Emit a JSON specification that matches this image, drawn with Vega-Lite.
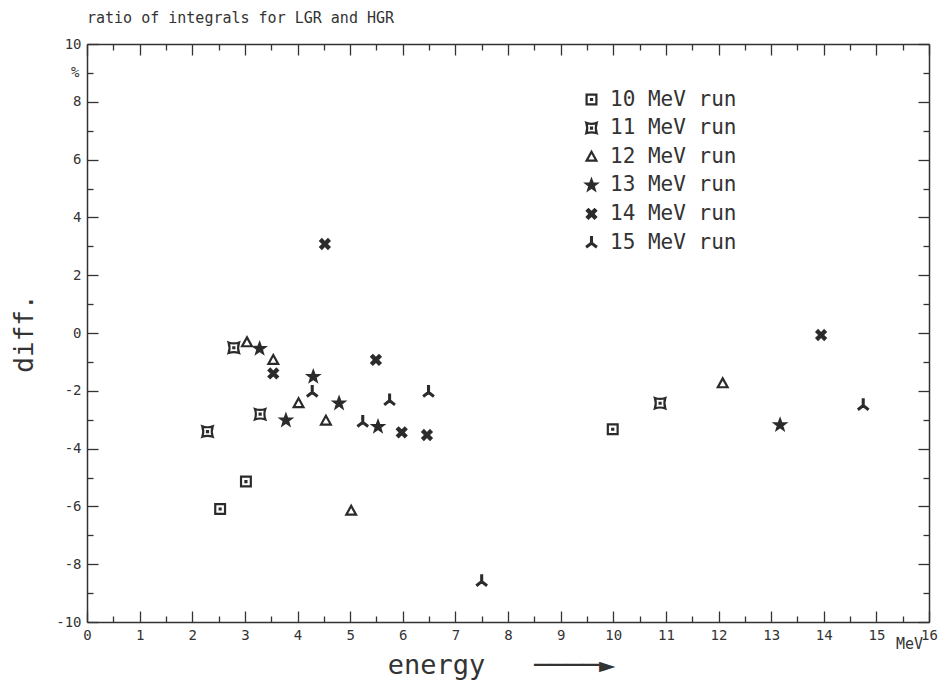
{
  "$schema": "https://vega.github.io/schema/vega-lite/v6.json",
  "width": 842,
  "height": 578,
  "autosize": "none",
  "padding": {"left": 87, "top": 44, "right": 10, "bottom": 63},
  "background": "white",
  "title": {
    "text": "ratio of integrals for LGR and HGR",
    "anchor": "start",
    "frame": "group",
    "font": "DejaVu Sans Mono",
    "fontSize": 15,
    "fontWeight": "normal",
    "color": "#333333",
    "offset": 11
  },
  "config": {
    "view": {"stroke": null},
    "font": "DejaVu Sans Mono",
    "axis": {
      "grid": false,
      "domainColor": "#333333",
      "domainWidth": 1.5,
      "tickColor": "#333333",
      "tickWidth": 1.3,
      "labelFont": "DejaVu Sans Mono",
      "labelFontSize": 14,
      "labelColor": "#333333",
      "labelFlush": false,
      "labelOverlap": false,
      "titleFont": "DejaVu Sans Mono",
      "titleFontWeight": "normal",
      "titleColor": "#333333"
    }
  },
  "datasets": {
    "runs": [
      {"run": "10 MeV run", "energy": 2.53, "diff": -6.09},
      {"run": "10 MeV run", "energy": 3.02, "diff": -5.14},
      {"run": "10 MeV run", "energy": 9.99, "diff": -3.33},
      {"run": "11 MeV run", "energy": 2.29, "diff": -3.41},
      {"run": "11 MeV run", "energy": 2.79, "diff": -0.51},
      {"run": "11 MeV run", "energy": 3.29, "diff": -2.81},
      {"run": "11 MeV run", "energy": 10.89, "diff": -2.43},
      {"run": "12 MeV run", "energy": 3.04, "diff": -0.32},
      {"run": "12 MeV run", "energy": 3.54, "diff": -0.93},
      {"run": "12 MeV run", "energy": 4.02, "diff": -2.43},
      {"run": "12 MeV run", "energy": 4.54, "diff": -3.03},
      {"run": "12 MeV run", "energy": 5.02, "diff": -6.15},
      {"run": "12 MeV run", "energy": 12.08, "diff": -1.74},
      {"run": "13 MeV run", "energy": 3.28, "diff": -0.54},
      {"run": "13 MeV run", "energy": 3.78, "diff": -3.02},
      {"run": "13 MeV run", "energy": 4.30, "diff": -1.51},
      {"run": "13 MeV run", "energy": 4.79, "diff": -2.43},
      {"run": "13 MeV run", "energy": 5.53, "diff": -3.24},
      {"run": "13 MeV run", "energy": 13.17, "diff": -3.18},
      {"run": "14 MeV run", "energy": 3.54, "diff": -1.40},
      {"run": "14 MeV run", "energy": 4.52, "diff": 3.08},
      {"run": "14 MeV run", "energy": 5.49, "diff": -0.93},
      {"run": "14 MeV run", "energy": 5.98, "diff": -3.44},
      {"run": "14 MeV run", "energy": 6.46, "diff": -3.53},
      {"run": "14 MeV run", "energy": 13.95, "diff": -0.07},
      {"run": "15 MeV run", "energy": 4.28, "diff": -2.03},
      {"run": "15 MeV run", "energy": 5.24, "diff": -3.07},
      {"run": "15 MeV run", "energy": 5.75, "diff": -2.32},
      {"run": "15 MeV run", "energy": 6.49, "diff": -2.03},
      {"run": "15 MeV run", "energy": 7.50, "diff": -8.58},
      {"run": "15 MeV run", "energy": 14.75, "diff": -2.49}
    ]
  },
  "data": {"name": "runs"},
  "resolve": {"axis": {"x": "independent", "y": "independent"}},
  "layer": [
    {
      "mark": {"type": "point", "filled": true, "stroke": "#2b2b2b", "strokeWidth": 2.2, "size": 150, "opacity": 1},
      "encoding": {
        "x": {
          "field": "energy",
          "type": "quantitative",
          "scale": {"domain": [0, 16], "nice": false, "zero": false},
          "axis": {
            "orient": "bottom",
            "values": [0, 1, 2, 3, 4, 5, 6, 7, 8, 9, 10, 11, 12, 13, 14, 15, 16],
            "labelExpr": "'' + datum.value",
            "tickSize": -11,
            "labelPadding": 17,
            "title": "energy\u00a0\u00a0\u00a0────►",
            "titleFontSize": 27,
            "titleX": 414,
            "titleY": 43,
            "titleBaseline": "middle"
          }
        },
        "y": {
          "field": "diff",
          "type": "quantitative",
          "scale": {"domain": [-10, 10], "nice": false, "zero": false},
          "axis": {
            "orient": "left",
            "values": [-10, -8, -6, -4, -2, 0, 2, 4, 6, 8, 10],
            "labelExpr": "'' + datum.value",
            "tickSize": -11,
            "labelPadding": 17,
            "title": "diff.",
            "titleFontSize": 26,
            "titleX": -63,
            "titleY": 289,
            "titleBaseline": "middle",
            "titleAngle": -90
          }
        },
        "shape": {
          "field": "run",
          "type": "nominal",
          "scale": {
            "domain": ["10 MeV run", "11 MeV run", "12 MeV run", "13 MeV run", "14 MeV run", "15 MeV run"],
            "range": [
              "M-0.8,-0.8H0.8V0.8H-0.8Z M-0.08,-0.08H0.08V0.08H-0.08Z",
              "M-0.85,-0.85Q0,-0.55 0.85,-0.85Q0.55,0 0.85,0.85Q0,0.55 -0.85,0.85Q-0.55,0 -0.85,-0.85Z M-0.08,-0.08H0.08V0.08H-0.08Z",
              "M0,-0.8L0.8,0.65L-0.8,0.65Z",
              "M0,-0.9L0.22,-0.3L0.86,-0.28L0.35,0.11L0.53,0.73L0,0.36L-0.53,0.73L-0.35,0.11L-0.86,-0.28L-0.22,-0.3Z",
              "M0.5,-0.75L0.75,-0.5L0.25,0L0.75,0.5L0.5,0.75L0,0.25L-0.5,0.75L-0.75,0.5L-0.25,0L-0.75,-0.5L-0.5,-0.75L0,-0.25Z",
              "M-0.07,-0.9L0.07,-0.9L0.07,0.06L0.78,0.62L0.7,0.73L0,0.18L-0.7,0.73L-0.78,0.62L-0.07,0.06Z"
            ]
          },
          "legend": {
            "title": null,
            "orient": "none",
            "legendX": 494,
            "legendY": 45,
            "symbolSize": 150,
            "symbolStrokeWidth": 2.2,
            "labelFont": "DejaVu Sans Mono",
            "labelFontSize": 21,
            "labelColor": "#333333",
            "labelOffset": 8,
            "rowPadding": 6.6,
            "labelLimit": 300,
            "encode": {
              "symbols": {
                "update": {
                  "stroke": {"value": "#2b2b2b"},
                  "strokeWidth": {"value": 2.2}
                }
              }
            }
          }
        },
        "fill": {
          "field": "run",
          "type": "nominal",
          "scale": {
            "domain": ["10 MeV run", "11 MeV run", "12 MeV run", "13 MeV run", "14 MeV run", "15 MeV run"],
            "range": ["#ffffff", "#ffffff", "#ffffff", "#2b2b2b", "#2b2b2b", "#2b2b2b"]
          },
          "legend": {"title": null}
        }
      }
    },
    {
      "mark": {"type": "point", "opacity": 0},
      "encoding": {
        "x": {
          "field": "energy",
          "type": "quantitative",
          "axis": {
            "orient": "bottom",
            "values": [0.5, 1.5, 2.5, 3.5, 4.5, 5.5, 6.5, 7.5, 8.5, 9.5, 10.5, 11.5, 12.5, 13.5, 14.5, 15.5],
            "labels": false,
            "domain": false,
            "title": null,
            "tickSize": -6
          }
        },
        "y": {
          "field": "diff",
          "type": "quantitative",
          "axis": {
            "orient": "left",
            "values": [-9, -7, -5, -3, -1, 1, 3, 5, 7, 9],
            "labelExpr": "datum.value === 9 ? '%' : ''",
            "labelPadding": 14,
            "domain": false,
            "title": null,
            "tickSize": -6
          }
        }
      }
    },
    {
      "mark": {"type": "point", "opacity": 0},
      "encoding": {
        "x": {
          "field": "energy",
          "type": "quantitative",
          "axis": {
            "orient": "top",
            "values": [0, 1, 2, 3, 4, 5, 6, 7, 8, 9, 10, 11, 12, 13, 14, 15, 16],
            "labels": false,
            "title": null,
            "tickSize": -11
          }
        },
        "y": {
          "field": "diff",
          "type": "quantitative",
          "axis": {
            "orient": "right",
            "values": [-10, -8, -6, -4, -2, 0, 2, 4, 6, 8, 10],
            "labels": false,
            "title": null,
            "tickSize": -11
          }
        }
      }
    },
    {
      "mark": {"type": "point", "opacity": 0},
      "encoding": {
        "x": {
          "field": "energy",
          "type": "quantitative",
          "axis": {
            "orient": "top",
            "values": [0.5, 1.5, 2.5, 3.5, 4.5, 5.5, 6.5, 7.5, 8.5, 9.5, 10.5, 11.5, 12.5, 13.5, 14.5, 15.5],
            "labels": false,
            "domain": false,
            "title": null,
            "tickSize": -6
          }
        },
        "y": {
          "field": "diff",
          "type": "quantitative",
          "axis": {
            "orient": "right",
            "values": [-9, -7, -5, -3, -1, 1, 3, 5, 7, 9],
            "labels": false,
            "domain": false,
            "title": null,
            "tickSize": -6
          }
        }
      }
    },
    {
      "mark": {"type": "point", "opacity": 0},
      "encoding": {
        "x": {
          "field": "energy",
          "type": "quantitative",
          "axis": {
            "orient": "bottom",
            "values": [15.62],
            "labelExpr": "'MeV'",
            "labelFontSize": 15,
            "ticks": false,
            "domain": false,
            "labelPadding": 14,
            "title": null
          }
        },
        "y": {"field": "diff", "type": "quantitative", "axis": null}
      }
    }
  ]
}
